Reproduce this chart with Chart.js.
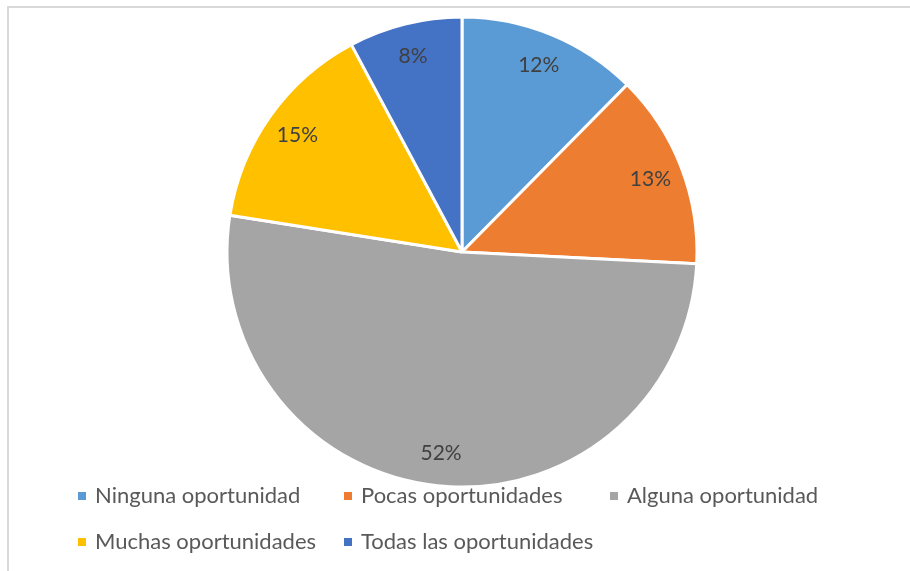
<!DOCTYPE html>
<html>
<head>
<meta charset="utf-8">
<script src="https://cdn.jsdelivr.net/npm/chart.js@4.4.1/dist/chart.umd.min.js"></script>
<style>
    body { margin: 0; background: #fff; }
    #wrap { position: relative; width: 910px; height: 571px; overflow: hidden; }
    #frame { position: absolute; left: 7px; top: 6px; width: 1000px; height: 1000px;
             border-left: 2px solid #d9d9d9; border-top: 2px solid #d9d9d9; }
    #chart { position: absolute; left: 0; top: 0; }
</style>
</head>
<body>
<div id="wrap">
    <div id="frame"></div>
    <canvas id="chart" width="910" height="571"></canvas>
</div>
<script>
const labels = ['Ninguna oportunidad', 'Pocas oportunidades', 'Alguna oportunidad',
    'Muchas oportunidades', 'Todas las oportunidades'];
const values = [12.4, 13.4, 51.7, 14.7, 7.8];
const colors = ['#5B9BD5', '#ED7D31', '#A5A5A5', '#FFC000', '#4472C4'];

// percent labels inside the slices
const pctLabels = {
    id: 'pctLabels',
    afterDatasetsDraw(chart) {
        const ctx = chart.ctx;
        const meta = chart.getDatasetMeta(0);
        const total = values.reduce((a, b) => a + b, 0);
        ctx.save();
        ctx.font = '21px Lato';
        ctx.fillStyle = '#404040';
        ctx.textAlign = 'center';
        ctx.textBaseline = 'middle';
        meta.data.forEach(function (arc, i) {
            const mid = (arc.startAngle + arc.endAngle) / 2;
            const r = arc.outerRadius * 0.86;
            ctx.fillText(Math.round(values[i] / total * 100) + '%',
                arc.x + Math.cos(mid) * r, arc.y + Math.sin(mid) * r);
        });
        ctx.restore();
    }
};

// Excel style legend: items laid out in a grid of 3 columns
const gridLegend = {
    id: 'gridLegend',
    afterDraw(chart) {
        const ctx = chart.ctx;
        const colW = 266, rowH = 46, left = 78;
        const top = chart.chartArea.bottom - 8;
        ctx.save();
        ctx.font = '22px Lato';
        ctx.textBaseline = 'middle';
        ctx.textAlign = 'left';
        labels.forEach(function (lbl, i) {
            const x = left + (i % 3) * colW;
            const y = top + Math.floor(i / 3) * rowH;
            ctx.fillStyle = colors[i];
            ctx.fillRect(x, y - 4, 8, 8);
            ctx.fillStyle = '#595959';
            ctx.fillText(lbl, x + 17, y);
        });
        ctx.restore();
    }
};

new Chart(document.getElementById('chart'), {
    type: 'pie',
    data: {
        labels: labels,
        datasets: [{
            data: values,
            backgroundColor: colors,
            borderColor: '#ffffff',
            borderWidth: 3,
            radius: 235
        }]
    },
    options: {
        responsive: false,
        animation: false,
        layout: {padding: {left: 14, right: 0, top: 0, bottom: 67}},
        plugins: {
            tooltip: {enabled: false},
            legend: {display: false}
        }
    },
    plugins: [pctLabels, gridLegend]
});
</script>
</body>
</html>
